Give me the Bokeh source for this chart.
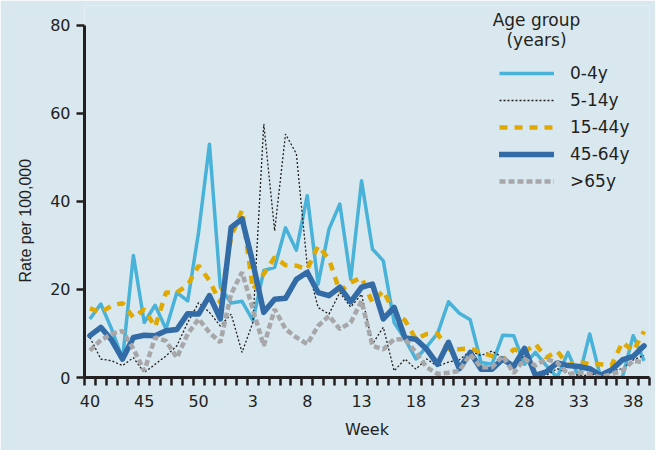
from bokeh.plotting import figure
from bokeh.models import FixedTicker, Legend, LegendItem, Label, Title
from bokeh.embed import file_html
from bokeh.resources import INLINE

# Weeks of the season (week 40 to week 52, then week 1 to week 39)
weeks = list(range(40, 53)) + list(range(1, 40))
tick_weeks = [40, 45, 50, 3, 8, 13, 18, 23, 28, 33, 38]

series_names = ["0-4y", "5-14y", "15-44y", "45-64y", ">65y"]

age_0_4 = [13.3, 16.7, 11, 4.2, 27.7, 12.5, 16.4, 11, 19.3, 17.4,
           33, 53, 20.5, 16.9, 17.3, 13, 24.3, 25, 34, 28.9,
           41.3, 21.2, 33.7, 39.4, 22.3, 44.7, 29.2, 26.5, 12.5, 8.7,
           4.2, 7, 10, 17.2, 14.6, 13.1, 3.4, 3, 9.6, 9.5,
           3, 5.7, 2.7, 0, 5.7, 0, 9.9, 0, 0, 0,
           9.5, 3.8]

age_5_14 = [9.1, 4.2, 3.8, 2.7, 4.5, 1.1, 3, 4.9, 7.2, 12.5,
            17, 14.8, 11.7, 14.4, 5.7, 12.5, 57.6, 33.3, 55.3, 50.8,
            25.4, 15.9, 14.4, 19.3, 16, 18.9, 7.6, 11.4, 1.5, 4.2,
            1.9, 4.2, 2.5, 3.5, 4, 6, 5, 6, 4.5, 2,
            5, 1, 0.5, 2, 1, 0.5, 0.5, 1, 1.5, 2,
            4, 5]

age_15_44 = [15.7, 14.8, 16.3, 16.9, 13.6, 15.5, 11.5, 19.3, 19.3, 21,
             25.4, 22, 17, 32, 38, 20, 23.5, 27.3, 25.5, 25.4,
             24.6, 29.9, 26.9, 19.5, 21.6, 22.7, 17, 19.7, 14.8, 13,
             8.7, 9.9, 9.9, 6.4, 6.4, 6.6, 5.7, 4.9, 3.8, 6.4,
             5.7, 7.6, 4.5, 6, 2.8, 3.6, 3, 3, 2.7, 8,
             6, 10.5]

age_45_64 = [9.5, 11.4, 8.5, 4.2, 9.1, 9.6, 9.5, 10.6, 10.9, 14.5,
             14.4, 18.6, 13.3, 34.1, 36, 26, 14.8, 17.8, 18, 22.3,
             23.9, 19.3, 18.6, 20.5, 17.2, 20.5, 21.2, 13.3, 15.9, 9,
             8.7, 6.4, 3, 8, 2, 5.7, 1.9, 1.9, 4.2, 2.5,
             6.6, 0.5, 1.3, 3.3, 2.7, 2.5, 2, 0.5, 1.7, 4,
             4.8, 7.2]

age_65 = [6.1, 8.5, 9.9, 10.6, 6.5, 1.5, 9.1, 8.3, 4.5, 9.9,
          13.3, 10.2, 8, 19, 23.9, 15.5, 7.2, 15.5, 11, 9.1,
          7.6, 11.7, 14, 11, 12.5, 17.4, 7.2, 6.4, 8.7, 8.7,
          5.7, 2.3, 0.8, 1.1, 1.5, 5.3, 2.3, 2.3, 4.9, 1,
          4.2, 2.7, 4.2, 3.4, 0.8, 1.1, 0.8, 0, 0.8, 1.5,
          3.8, 3.4]

BG = "#d9e8ef"
INK = "#231f20"
FONT = "DejaVu Sans"

x = list(range(len(weeks)))

p = figure(width=655, height=450, x_range=(-0.5, 51.5), y_range=(0, 84.5),
           output_backend="svg", toolbar_location=None,
           min_border_left=84, min_border_right=6, min_border_top=5,
           min_border_bottom=73)
p.background_fill_color = BG
p.border_fill_color = BG
p.outline_line_color = None
p.grid.grid_line_color = None

r0 = p.line(x, age_0_4, line_color="#48b2d8", line_width=3.5, line_join="round")
r1 = p.line(x, age_5_14, line_color=INK, line_width=1.3, line_dash="2 2")
r2 = p.line(x, age_15_44, line_color="#e0a900", line_width=4.5, line_dash="8 7")
r3 = p.line(x, age_45_64, line_color="#336ba6", line_width=5.5, line_join="round", line_cap="round")
r4 = p.line(x, age_65, line_color="#a7a7aa", line_width=4.5, line_dash="6 3")

# y axis
p.yaxis.ticker = FixedTicker(ticks=[0, 20, 40, 60, 80])
p.yaxis.bounds = (0, 80)
p.yaxis.axis_line_width = 3
p.yaxis.axis_line_color = INK
p.yaxis.major_tick_line_width = 2.5
p.yaxis.major_tick_line_color = INK
p.yaxis.major_tick_out = 8
p.yaxis.major_tick_in = 0
p.yaxis.minor_tick_line_color = None
p.yaxis.major_label_text_font = FONT
p.yaxis.major_label_text_font_size = "16px"
p.yaxis.major_label_text_color = INK
p.yaxis.major_label_standoff = 6

ytitle = Title(text="Rate per 100,000", align="left", offset=95, standoff=28,
               text_font="Liberation Sans", text_font_size="16px",
               text_font_style="normal", text_color=INK)
p.add_layout(ytitle, "left")

# x axis
label_idx = [weeks.index(w) if w != 38 else len(weeks) - 2 for w in tick_weeks]
p.xaxis.ticker = FixedTicker(ticks=label_idx, minor_ticks=[i - 0.5 for i in range(len(weeks) + 1)])
p.xaxis.major_label_overrides = {i: str(w) for i, w in zip(label_idx, tick_weeks)}
p.xaxis.axis_label = "Week"
p.xaxis.axis_label_text_font = FONT
p.xaxis.axis_label_text_font_size = "16px"
p.xaxis.axis_label_text_font_style = "normal"
p.xaxis.axis_label_text_color = INK
p.xaxis.axis_label_standoff = 10
p.xaxis.axis_line_width = 3
p.xaxis.axis_line_color = INK
p.xaxis.major_tick_line_color = None
p.xaxis.major_tick_out = 8
p.xaxis.major_tick_in = 0
p.xaxis.minor_tick_line_color = INK
p.xaxis.minor_tick_line_width = 2.5
p.xaxis.minor_tick_out = 8
p.xaxis.minor_tick_in = 0
p.xaxis.major_label_text_font = FONT
p.xaxis.major_label_text_font_size = "16px"
p.xaxis.major_label_text_color = INK
p.xaxis.major_label_standoff = 9

legend = Legend(items=[LegendItem(label=n, renderers=[r]) for n, r in zip(series_names, [r0, r1, r2, r3, r4])],
                location=(415, 186), orientation="vertical")
legend.background_fill_alpha = 0
legend.border_line_color = None
legend.padding = 0
legend.margin = 0
legend.spacing = 7
legend.glyph_width = 55
legend.glyph_height = 20
legend.label_height = 20
legend.label_standoff = 16
legend.label_text_font = FONT
legend.label_text_font_size = "17px"
legend.label_text_color = INK
p.add_layout(legend)

for txt, yv in [("Age group", 81.2), ("(years)", 76.6)]:
    p.add_layout(Label(x=41.1, y=yv, text=txt, text_align="center", text_baseline="middle",
                       text_font=FONT, text_font_size="17px", text_color=INK))

open("out.html", "w").write(file_html(p, INLINE))
